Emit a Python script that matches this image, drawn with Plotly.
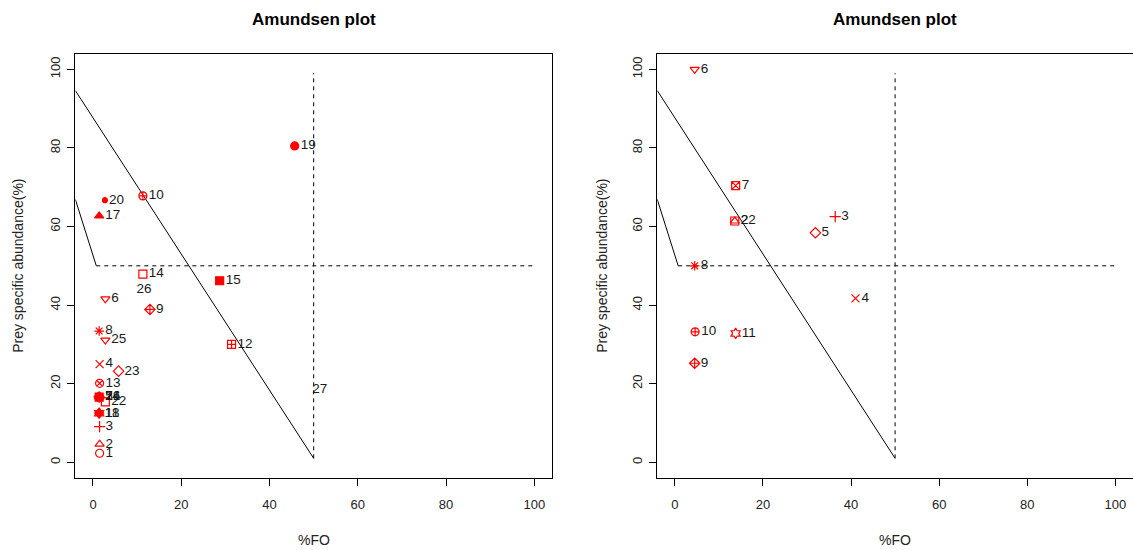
import plotly.graph_objects as go

# ---------------- data ----------------
left_labels = [1, 2, 3, 4, 5, 6, 7, 8, 9, 10, 11, 12, 13, 14, 15, 16, 17, 18, 19, 20, 21, 22, 23, 24, 25, 26, 27]
left_fo = [1.5, 1.5, 1.5, 1.5, 1.4, 2.8, 1.4, 1.4, 12.9, 11.3, 1.4, 31.4, 1.5, 11.3, 28.7,
           1.4, 1.4, 1.4, 45.7, 2.7, 1.4, 2.8, 5.8, 1.4, 2.8, 8.5, 48.3]
left_psa = [2.3, 4.6, 9.1, 25.0, 16.6, 41.6, 16.6, 33.4, 38.9, 67.8, 12.5, 30.0, 20.1, 47.9, 46.2,
            16.6, 62.7, 12.5, 80.5, 66.7, 16.6, 15.4, 23.2, 16.6, 31.1, 43.9, 18.4]

right_labels = [2, 3, 4, 5, 6, 7, 8, 9, 10, 11, 22]
right_fo = [13.6, 36.4, 41.0, 31.9, 4.5, 13.8, 4.5, 4.5, 4.6, 13.8, 13.6]
right_psa = [61.4, 62.5, 41.7, 58.4, 100.0, 70.4, 50.0, 25.2, 33.2, 32.8, 61.4]

# reference lines (%FO, abundance)
solid1_x = [-4, 50]
solid1_y = [94.6, 1.0]
solid2_x = [-4, 0.75]
solid2_y = [66.9, 50.0]
hdash_x = [0.75, 100]
hdash_y = [50, 50]
vdash_x = [50, 50]
vdash_y = [1, 99]

tick_vals = [0, 20, 40, 60, 80, 100]
title_text = "Amundsen plot"
xlab = "%FO"
ylab = "Prey specific abundance(%)"

# ---------------- styles (R pch -> plotly symbol) ----------------
RED = "#FF0000"
pch_symbol = {
    1: "circle-open", 2: "triangle-up-open", 3: "cross-thin-open", 4: "x-thin-open",
    5: "diamond-open", 6: "triangle-down-open", 7: "square-x-open", 8: "asterisk-open",
    9: "diamond-cross-open", 10: "circle-cross-open", 11: "hexagram-open",
    12: "square-cross-open", 13: "circle-x-open", 14: "square-open", 15: "square",
    16: "circle", 17: "triangle-up", 18: "diamond", 19: "circle", 20: "circle",
    21: "circle-open", 22: "square-open", 23: "diamond-open", 24: "triangle-up-open",
    25: "triangle-down-open", 26: "circle", 27: "circle",
}
pch_size = {20: 5, 18: 7, 15: 8, 16: 8, 19: 8, 17: 8}
FONT = "Liberation Sans, Arial, Helvetica, sans-serif"


def add_points(fig, labels, xs, ys, xa, ya):
    symbols = [pch_symbol[l] for l in labels]
    sizes = [pch_size.get(l, 8) for l in labels]
    colors = [("rgba(0,0,0,0)" if l >= 26 else RED) for l in labels]
    fig.add_trace(go.Scatter(
        x=xs, y=ys, mode="markers+text", text=[str(l) for l in labels],
        textposition="middle right",
        textfont=dict(family=FONT, size=13.5, color="#1a1a1a"),
        marker=dict(symbol=symbols, size=sizes, color=colors, opacity=1,
                    line=dict(color=colors, width=1.2)),
        xaxis=xa, yaxis=ya, showlegend=False, cliponaxis=False,
    ))


def add_lines(fig, xa, ya):
    for lx, ly, dash in [(solid1_x, solid1_y, "solid"), (solid2_x, solid2_y, "solid"),
                         (hdash_x, hdash_y, "4px,4px"), (vdash_x, vdash_y, "4px,4px")]:
        fig.add_trace(go.Scatter(x=lx, y=ly, mode="lines",
                                 line=dict(color="black", width=1, dash=dash),
                                 xaxis=xa, yaxis=ya, showlegend=False, hoverinfo="skip"))


fig = go.Figure()
add_lines(fig, "x", "y")
add_points(fig, left_labels, left_fo, left_psa, "x", "y")
add_lines(fig, "x2", "y2")
add_points(fig, right_labels, right_fo, right_psa, "x2", "y2")

dom_left = [0.0665, 0.4872]
dom_right = [0.5801, 1.0]
dom_y = [0.1309, 0.9025]

ax_common = dict(range=[-4, 104], tickvals=tick_vals, ticks="outside", ticklen=7,
                 tickcolor="black", tickwidth=1, showline=True, linecolor="black",
                 linewidth=1, mirror=True, showgrid=False, zeroline=False,
                 tickfont=dict(family=FONT, size=13, color="#222"))

fig.update_layout(
    width=1133, height=550, margin=dict(l=0, r=0, t=0, b=0),
    paper_bgcolor="white", plot_bgcolor="white",
    xaxis=dict(domain=dom_left, anchor="y", ticklabelstandoff=7, **ax_common),
    yaxis=dict(domain=dom_y, anchor="x", tickangle=-90, ticklabelstandoff=2, **ax_common),
    xaxis2=dict(domain=dom_right, anchor="y2", ticklabelstandoff=7, **ax_common),
    yaxis2=dict(domain=dom_y, anchor="x2", tickangle=-90, ticklabelstandoff=2, **ax_common),
)

annots = []
for d in (dom_left, dom_right):
    cx = (d[0] + d[1]) / 2
    annots.append(dict(text="<b>" + title_text + "</b>", x=cx, y=1 - 19 / 550, xref="paper", yref="paper",
                       showarrow=False, font=dict(family=FONT, size=17, color="black"),
                       xanchor="center", yanchor="middle"))
    annots.append(dict(text=xlab, x=cx, y=1 - 540 / 550, xref="paper", yref="paper",
                       showarrow=False, font=dict(family=FONT, size=14, color="#222"),
                       xanchor="center", yanchor="middle"))
for xpx in (18, 602):
    annots.append(dict(text=ylab, x=xpx / 1133, y=(dom_y[0] + dom_y[1]) / 2, xref="paper", yref="paper",
                       showarrow=False, textangle=-90, font=dict(family=FONT, size=14, color="#222"),
                       xanchor="center", yanchor="middle"))
fig.update_layout(annotations=annots)

fig.write_html("out.html", config={"displayModeBar": False},
               post_script="document.body.style.margin='0px';")
